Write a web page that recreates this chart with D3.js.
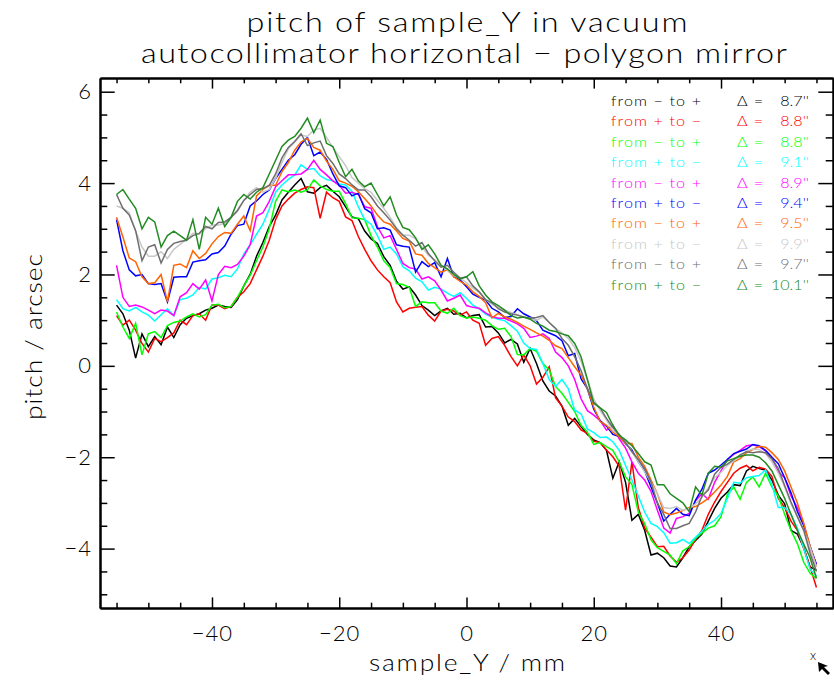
<!DOCTYPE html>
<html>
<head>
<meta charset="utf-8">
<script src="https://cdn.jsdelivr.net/npm/d3@7"></script>
<style>
  body { margin: 0; background: #fff; }
  text { font-family: Lato, 'Open Sans', 'DejaVu Sans', sans-serif; font-weight: 300; fill: #000; }
  .axis path, .axis line { stroke: #000; }
</style>
</head>
<body>
<svg id="chart" width="834" height="680"></svg>
<script>
// sample positions (mm)
const sampleY = [
  -55, -54, -53, -52, -51, -50, -49, -48, -47, -46,
  -45, -44, -43, -42, -41, -40, -39, -38, -37, -36,
  -35, -34, -33, -32, -31, -30, -29, -28, -27, -26,
  -25, -24, -23, -22, -21, -20, -19, -18, -17, -16,
  -15, -14, -13, -12, -11, -10, -9, -8, -7, -6,
  -5, -4, -3, -2, -1, 0, 1, 2, 3, 4,
  5, 6, 7, 8, 9, 10, 11, 12, 13, 14,
  15, 16, 17, 18, 19, 20, 21, 22, 23, 24,
  25, 26, 27, 28, 29, 30, 31, 32, 33, 34,
  35, 36, 37, 38, 39, 40, 41, 42, 43, 44,
  45, 46, 47, 48, 49, 50, 51, 52, 53, 54, 55
]

// pitch (arcsec) for each run
const runBlack = [
  1.33, 1.14, 0.78, 0.17, 0.7, 0.42, 0.64, 0.46, 0.85, 0.62,
  0.9, 1.04, 1.1, 1.14, 1.22, 1.26, 1.33, 1.3, 1.28, 1.45,
  1.75, 2.0, 2.4, 2.7, 3.05, 3.3, 3.63, 3.8, 3.96, 4.1,
  3.81, 3.78, 3.9, 3.95, 3.82, 3.7, 3.48, 3.26, 3.22, 2.95,
  2.78, 2.68, 2.39, 2.2, 1.85, 1.68, 1.73, 1.55, 1.32, 1.22,
  1.1, 1.2, 1.26, 1.13, 1.15, 1.05, 1.1, 1.12, 0.85, 0.86,
  0.72, 0.5, 0.58, 0.48, 0.08, 0.38, 0.05, -0.33, -0.55, -0.66,
  -0.88, -1.3, -1.15, -1.33, -1.5, -1.62, -1.68, -1.85, -2.46, -2.1,
  -2.55, -3.38, -3.25, -3.6, -4.14, -4.1, -4.2, -4.38, -4.4, -4.2,
  -3.96, -3.82, -3.68, -3.4, -3.12, -2.9, -2.76, -2.6, -2.62, -2.3,
  -2.2, -2.25, -2.28, -2.5, -2.83, -3.02, -3.6, -3.68, -3.98, -4.4, -4.47
]
const runRed = [
  1.1, 0.89, 1.0, 0.78, 0.49, 0.3, 0.6, 0.53, 0.62, 0.72,
  1.0, 0.9, 1.1, 1.14, 1.0, 1.33, 1.33, 1.25, 1.3, 1.5,
  1.62, 1.8, 2.1, 2.4, 2.75, 3.2, 3.5, 3.65, 3.78, 3.86,
  3.92, 3.9, 3.23, 3.8, 3.68, 3.6, 3.26, 3.18, 2.83, 2.55,
  2.3, 2.1, 1.95, 1.82, 1.4, 1.18, 1.26, 1.28, 1.3, 1.11,
  0.98, 1.2, 1.24, 1.2, 1.11, 1.18, 1.0, 0.93, 0.45, 0.6,
  0.64, 0.45, 0.2, 0.0, 0.24, 0.0, -0.4, -0.25, -0.02, -0.7,
  -0.88, -1.12, -1.22, -1.4, -1.48, -1.65, -1.68, -1.84, -1.99, -2.2,
  -3.16, -2.1, -3.1, -3.55, -3.75, -3.96, -3.95, -4.16, -4.3, -4.2,
  -4.03, -3.8, -3.6, -3.25, -2.98, -2.75, -2.55, -2.35, -2.24, -2.18,
  -2.3, -2.22, -2.26, -2.42, -2.9, -3.1, -3.4, -3.6, -4.0, -4.4, -4.85
]
const runLime = [
  1.18, 0.85, 0.6, 0.93, 0.24, 0.7, 0.75, 0.62, 0.88, 0.95,
  0.98, 1.07, 1.14, 1.07, 1.12, 1.33, 1.35, 1.27, 1.3, 1.5,
  1.75, 1.98, 2.3, 2.6, 3.0, 3.6, 3.85, 3.81, 3.85, 3.8,
  3.85, 4.07, 3.94, 3.86, 3.82, 3.82, 3.55, 3.24, 3.23, 3.2,
  2.85, 2.6, 2.3, 2.15, 1.8, 1.78, 1.72, 1.3, 1.4, 1.38,
  1.38, 1.2, 1.15, 1.26, 1.1, 1.05, 1.07, 1.04, 1.0, 0.88,
  0.8, 0.82, 0.64, 0.25, 0.24, 0.38, 0.32, 0.05, -0.09, -0.45,
  -0.6, -0.8, -1.0, -1.3, -1.45, -1.72, -1.68, -1.77, -1.85, -2.1,
  -2.43, -2.6, -3.2, -3.45, -3.81, -3.98, -4.06, -4.14, -4.33, -4.05,
  -3.96, -3.78, -3.66, -3.55, -3.5, -3.3, -2.82, -2.65, -2.92, -2.55,
  -2.43, -2.65, -2.35, -2.65, -2.85, -3.25, -3.6, -3.89, -4.3, -4.54, -4.65
]
const runCyan = [
  1.45, 1.25, 1.2, 1.28, 1.18, 1.11, 0.98, 1.12, 1.25, 1.1,
  1.45, 1.48, 1.55, 1.72, 1.68, 1.9, 1.93, 1.98, 1.95, 2.12,
  2.45, 2.65, 2.88, 3.1, 3.43, 3.8, 3.96, 4.08, 4.18, 4.4,
  4.3, 4.32, 4.16, 4.08, 4.05, 3.98, 3.96, 3.82, 3.48, 3.2,
  3.1, 2.85, 2.55, 2.6, 2.45, 2.17, 2.08, 1.92, 1.84, 1.66,
  1.72, 1.68, 1.59, 1.52, 1.6, 1.48, 1.33, 1.25, 1.13, 1.06,
  1.02, 0.99, 0.88, 0.76, 0.5, 0.38, 0.36, 0.05, -0.3, -0.45,
  -0.3, -0.5, -0.97, -1.05, -1.38, -1.46, -1.57, -1.56, -1.66, -1.85,
  -2.18, -2.5, -2.85, -3.2, -3.45, -3.52, -3.65, -3.88, -3.87, -3.8,
  -3.89, -3.75, -3.62, -3.47, -3.38, -3.23, -2.9, -2.55, -2.57, -2.45,
  -2.42, -2.4, -2.28, -2.6, -3.1, -3.1, -3.25, -3.55, -4.0, -4.45, -4.6
]
const runMagenta = [
  2.2, 1.5, 1.3, 1.33, 1.29, 1.22, 1.14, 1.22, 1.2, 1.1,
  1.51, 1.6, 1.8, 1.68, 1.88, 1.42, 2.0, 2.18, 2.15, 2.22,
  2.4, 2.65, 3.28, 3.35, 3.6, 3.92, 4.05, 4.18, 4.18, 4.2,
  4.3, 4.5, 4.3, 4.18, 4.05, 3.95, 3.78, 3.8, 3.75, 3.48,
  3.45, 3.05, 2.8, 2.85, 2.55, 2.24, 2.15, 2.12, 1.9, 1.95,
  1.86, 1.66, 1.42, 1.48, 1.55, 1.32, 1.28, 1.26, 1.16, 1.08,
  1.04, 1.04, 0.98, 0.92, 0.82, 0.62, 0.65, 0.7, 0.6, 0.3,
  0.18, 0.0, -0.3, -0.72, -0.98, -1.08, -1.2, -1.41, -1.3, -1.6,
  -1.8, -2.1, -2.35, -2.5, -2.75, -3.16, -3.55, -3.66, -3.34, -3.3,
  -3.23, -2.95, -2.8, -2.92, -2.55, -2.3, -2.05, -1.94, -1.85, -1.75,
  -1.73, -1.77, -1.86, -2.0, -2.32, -2.45, -2.85, -3.1, -3.45, -4.0, -4.35
]
const runBlue = [
  3.2, 2.52, 2.1, 1.97, 2.0, 1.8, 1.78, 1.8, 1.4, 1.94,
  1.95, 1.95, 2.27, 2.3, 2.32, 2.45, 2.48, 2.62, 2.88, 3.07,
  3.1, 3.5, 3.61, 3.75, 3.85, 4.1, 4.3, 4.5, 4.62, 4.85,
  5.0, 4.6, 4.68, 4.52, 4.2, 3.94, 3.9, 3.72, 3.78, 3.44,
  3.35, 3.0, 3.02, 2.97, 2.65, 2.62, 2.6, 2.05, 2.28, 2.17,
  2.26, 1.95, 2.35, 1.95, 1.88, 1.73, 1.57, 1.5, 1.44, 1.26,
  1.18, 1.06, 1.08, 1.25, 1.14, 1.07, 0.99, 0.78, 0.72, 0.66,
  0.55, 0.22, 0.27, -0.28, -0.5, -0.95, -1.2, -1.32, -1.5, -1.55,
  -1.7, -1.84, -2.1, -2.3, -2.65, -3.0, -3.4, -3.25, -3.12, -3.25,
  -3.28, -2.94, -2.7, -2.35, -2.28, -2.17, -2.05, -1.92, -1.87, -1.82,
  -1.72, -1.75, -1.85, -2.0, -2.14, -2.45, -2.78, -3.19, -3.5, -3.95, -4.35
]
const runOrange = [
  3.25, 2.82, 2.36, 2.28, 1.95, 1.8, 1.82, 2.0, 1.4, 2.2,
  2.23, 2.15, 2.52, 2.35, 2.46, 2.67, 2.83, 2.92, 2.9, 3.1,
  3.28, 2.96, 3.72, 3.86, 3.95, 3.95, 4.25, 4.45, 4.72, 4.9,
  4.98, 4.78, 4.72, 4.48, 4.3, 4.05, 4.0, 3.93, 3.81, 3.66,
  3.5, 3.3, 3.15, 3.1, 2.95, 2.79, 2.73, 2.45, 2.42, 2.24,
  2.15, 2.05, 2.1, 1.95, 1.85, 1.77, 1.62, 1.52, 1.38, 1.05,
  1.15, 1.07, 1.02, 0.95, 0.87, 0.8, 0.72, 0.65, 0.56, 0.44,
  0.38, 0.18, -0.02, -0.2, -0.5, -0.9, -1.22, -1.3, -1.45, -1.55,
  -1.7, -1.7, -2.0, -2.2, -2.5, -2.8, -3.2, -3.26, -3.22, -3.17,
  -3.1, -3.08, -3.0, -2.9, -2.76, -2.61, -2.42, -2.1, -2.03, -1.9,
  -1.83, -1.76, -1.78, -1.9, -2.05, -2.3, -2.65, -3.0, -3.45, -3.95, -4.4
]
const runLightGray = [
  3.5, 3.45, 3.35, 2.95, 2.6, 2.4, 2.4, 2.5, 2.35, 2.55,
  2.66, 2.77, 2.9, 2.88, 3.0, 3.08, 3.08, 3.12, 3.25, 3.38,
  3.62, 3.8, 3.9, 3.8, 3.86, 4.1, 4.45, 4.75, 4.9, 5.05,
  5.02, 5.16, 5.2, 5.0, 4.78, 4.58, 4.38, 4.12, 4.0, 3.88,
  3.8, 3.62, 3.45, 3.25, 3.02, 2.86, 2.86, 2.78, 2.6, 2.42,
  2.32, 2.2, 2.1, 1.98, 1.92, 1.82, 1.7, 1.6, 1.45, 1.35,
  1.28, 1.22, 1.17, 1.12, 1.06, 1.04, 1.0, 1.07, 0.95, 0.82,
  0.72, 0.6, 0.4, 0.1, -0.3, -0.72, -0.98, -1.18, -1.42, -1.5,
  -1.65, -1.88, -2.1, -2.32, -2.55, -2.8, -3.1, -3.12, -3.08, -3.16,
  -3.12, -3.02, -2.88, -2.67, -2.45, -2.33, -2.18, -2.08, -1.98, -1.86,
  -1.82, -1.83, -1.92, -2.1, -2.35, -2.65, -3.02, -3.3, -3.6, -3.98, -4.4
]
const runDarkGray = [
  3.75, 3.45, 3.3, 2.96, 2.3, 2.6, 2.65, 2.25, 2.55, 2.68,
  2.72, 2.75, 2.85, 2.9, 3.05, 3.0, 3.14, 3.15, 3.25, 3.4,
  3.62, 3.75, 3.86, 3.88, 3.95, 4.2, 4.55, 4.78, 4.91, 5.08,
  4.82, 4.88, 4.92, 4.6, 4.43, 4.2, 4.1, 3.96, 3.85, 3.85,
  3.7, 3.5, 3.35, 3.19, 3.0, 2.86, 2.75, 2.62, 2.7, 2.46,
  2.3, 2.16, 2.2, 2.05, 1.92, 1.95, 1.75, 1.62, 1.45, 1.38,
  1.25, 1.18, 1.14, 1.11, 1.07, 1.04, 1.06, 1.1, 0.95, 0.82,
  0.6, 0.45, 0.2, -0.1, -0.5, -0.8, -0.92, -1.15, -1.35, -1.5,
  -1.68, -1.88, -2.05, -2.25, -2.55, -3.0, -3.25, -3.56, -3.56, -3.5,
  -3.45, -3.2, -2.85, -2.72, -2.37, -2.22, -2.15, -2.05, -1.95, -1.88,
  -1.9, -1.88, -1.9, -2.04, -2.25, -2.62, -2.98, -3.3, -3.6, -4.1, -4.5
]
const runDarkGreen = [
  3.75, 3.86, 3.65, 3.45, 3.0, 3.25, 3.15, 2.6, 2.85, 2.95,
  2.85, 2.75, 3.2, 2.55, 3.25, 3.1, 3.45, 3.05, 3.25, 3.6,
  3.75, 3.65, 3.8, 3.9, 4.2, 4.5, 4.8, 4.94, 5.02, 5.2,
  5.42, 5.1, 5.38, 4.87, 4.8, 4.45, 4.14, 4.3, 4.05, 3.92,
  4.0, 3.75, 3.5, 3.7, 3.3, 3.03, 2.98, 2.8, 2.55, 2.65,
  2.45, 2.2, 2.12, 2.0, 1.9, 1.95, 2.06, 1.75, 1.55, 1.4,
  1.32, 1.22, 1.1, 1.05, 1.07, 1.02, 0.93, 0.87, 0.78, 0.75,
  0.7, 0.66, 0.49, 0.2, -0.3, -0.82, -0.92, -1.02, -1.3, -1.52,
  -1.62, -1.75, -1.92, -2.1, -2.17, -2.6, -2.6, -2.8, -2.9, -3.0,
  -3.19, -2.65, -2.83, -2.35, -2.2, -2.22, -2.08, -2.03, -1.98, -1.95,
  -1.95, -2.0, -2.12, -2.3, -2.6, -2.9, -3.25, -3.6, -3.9, -4.2, -4.65
]

const runs = [runBlack, runRed, runLime, runCyan, runMagenta, runBlue, runOrange, runLightGray, runDarkGray, runDarkGreen]
const runColors = ['#000000', '#ff0000', '#00ff00', '#00ffff', '#ff00ff', '#0000ff', '#ff6400', '#c8c8c8', '#6e6e6e', '#228b22']
const runDirections = ['from − to +', 'from + to −', 'from − to +', 'from + to −', 'from − to +',
  'from + to −', 'from − to +', 'from + to −', 'from − to +', 'from + to −']
const runDeltas = ['8.7', '8.8', '8.8', '9.1', '8.9', '9.4', '9.5', '9.9', '9.7', '10.1']

const xMajorTicks = [-40, -20, 0, 20, 40]
const xMinorTicks = [-55, -50, -45, -35, -30, -25, -15, -10, -5, 5, 10, 15, 25, 30, 35, 45, 50, 55]
const yMajorTicks = [-4, -2, 0, 2, 4, 6]
const yMinorTicks = [-5, -4.5, -3.5, -3, -2.5, -1.5, -1, -0.5, 0.5, 1, 1.5, 2.5, 3, 3.5, 4.5, 5, 5.5]

const svg = d3.select('#chart')

const x = d3.scaleLinear().domain([-57.6, 57.6]).range([100, 833])
const y = d3.scaleLinear().domain([-5.3, 6.3]).range([608, 78])

const fmt = (d) => (d < 0 ? '−' + Math.abs(d) : String(d))

/**
 * Writes a text with wide glyphs, like the plotting font of the original:
 * stretched horizontally, then spaced to the measured width.
 */
function wideText (parent, cx, cy, width, stretch, size, str) {
  return parent.append('text')
    .attr('transform', `translate(${cx},${cy}) scale(${stretch},1)`)
    .attr('text-anchor', 'middle')
    .attr('textLength', width / stretch).attr('lengthAdjust', 'spacing')
    .style('font-size', size + 'px')
    .text(str)
}

// title
wideText(svg, 467, 32, 441, 1.2, 27, 'pitch of sample_Y in vacuum')
wideText(svg, 464, 63, 646, 1.2, 27, 'autocollimator horizontal − polygon mirror')

// axes, IDL style: ticks on all four sides, pointing inwards
function drawAxis (axis, transform, labelled) {
  const g = svg.append('g')
    .attr('class', 'axis')
    .attr('transform', transform)
    .call(axis)
  g.select('.domain').attr('stroke-width', 2)
  g.selectAll('.tick line').attr('stroke-width', 1.5)
  if (labelled) {
    g.selectAll('.tick text')
      .style('font-family', "Lato, 'Open Sans', 'DejaVu Sans', sans-serif")
      .style('font-weight', 300)
      .style('font-size', '22px')
      .style('letter-spacing', '1px')
      .attr('fill', '#000')
  }
  return g
}

drawAxis(d3.axisBottom(x).tickValues(xMajorTicks).tickSize(-10.6).tickSizeOuter(0).tickPadding(17).tickFormat(fmt), 'translate(0,608)', true)
drawAxis(d3.axisBottom(x).tickValues(xMinorTicks).tickSize(-5.3).tickSizeOuter(0).tickFormat(''), 'translate(0,608)', false)
drawAxis(d3.axisTop(x).tickValues(xMajorTicks).tickSize(-10.6).tickSizeOuter(0).tickFormat(''), 'translate(0,78)', false)
drawAxis(d3.axisTop(x).tickValues(xMinorTicks).tickSize(-5.3).tickSizeOuter(0).tickFormat(''), 'translate(0,78)', false)
drawAxis(d3.axisLeft(y).tickValues(yMajorTicks).tickSize(-14.7).tickSizeOuter(0).tickPadding(8).tickFormat(fmt), 'translate(100,0)', true)
drawAxis(d3.axisLeft(y).tickValues(yMinorTicks).tickSize(-7.3).tickSizeOuter(0).tickFormat(''), 'translate(100,0)', false)
drawAxis(d3.axisRight(y).tickValues(yMajorTicks).tickSize(-14.7).tickSizeOuter(0).tickFormat(''), 'translate(833,0)', false)
drawAxis(d3.axisRight(y).tickValues(yMinorTicks).tickSize(-7.3).tickSizeOuter(0).tickFormat(''), 'translate(833,0)', false)

// axis titles
wideText(svg, 467, 671, 196, 1.15, 23, 'sample_Y / mm')
wideText(svg.append('g').attr('transform', 'translate(42,337) rotate(-90)'), 0, 0, 166, 1.15, 23, 'pitch / arcsec')

// the runs, drawn in order so the last one sits on top
const line = d3.line()
  .x((d, i) => x(sampleY[i]))
  .y((d) => y(d))

svg.append('g')
  .selectAll('path')
  .data(runs)
  .enter()
  .append('path')
  .attr('d', (d) => line(d))
  .attr('fill', 'none')
  .attr('stroke', (d, i) => runColors[i])
  .attr('stroke-width', 1.5)

// legend
const legend = svg.append('g')
  .selectAll('g')
  .data(runDirections)
  .enter()
  .append('g')
  .attr('transform', (d, i) => `translate(0,${106 + i * 20.4})`)
  .style('font-size', '14px')
  .style('font-weight', 400)

legend.append('text')
  .attr('transform', 'translate(611,0) scale(1.15,1)')
  .attr('textLength', 90 / 1.15).attr('lengthAdjust', 'spacing')
  .style('fill', (d, i) => runColors[i])
  .text((d) => d)
legend.append('text')
  .attr('transform', 'translate(737,0) scale(1.15,1)')
  .attr('textLength', 26 / 1.15).attr('lengthAdjust', 'spacing')
  .style('fill', (d, i) => runColors[i])
  .text('Δ =')
legend.append('text')
  .attr('transform', 'translate(809,0) scale(1.15,1)')
  .attr('text-anchor', 'end')
  .style('fill', (d, i) => runColors[i])
  .text((d, i) => runDeltas[i] + "''")

// mouse cursor left on the screenshot
svg.append('text')
  .attr('x', 810).attr('y', 660)
  .style('font-size', '13px')
  .text('x')
svg.append('path')
  .attr('d', 'M818,662 L828,666 L824,667 L830,673 L828,675 L822,669 L819,672 Z')
  .attr('fill', '#000')
</script>
</body>
</html>
